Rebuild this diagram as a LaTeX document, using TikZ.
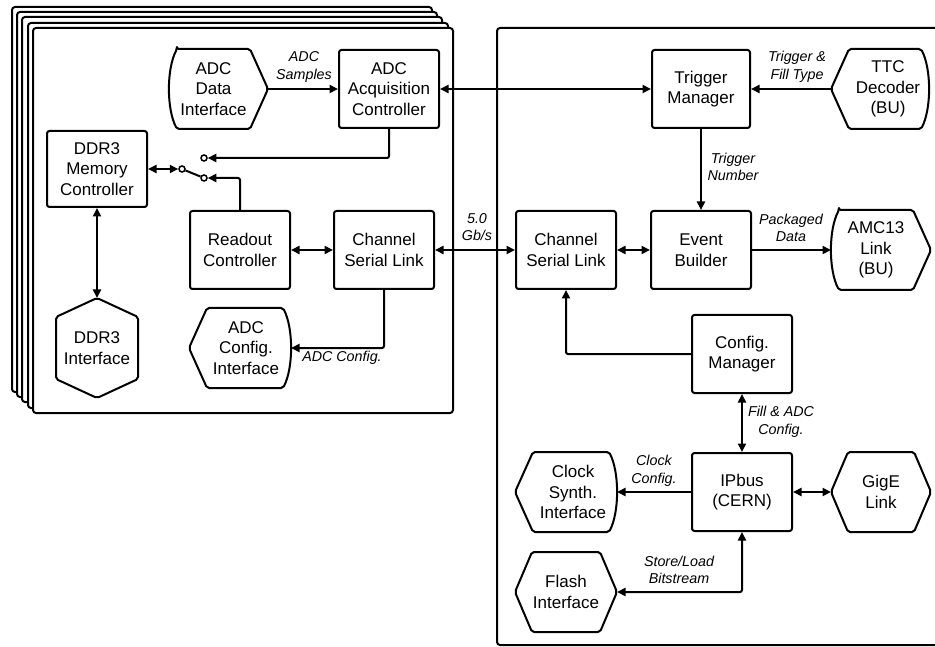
\documentclass[tikz,border=0pt]{standalone}
\usepackage{fontspec}
\setmainfont{Liberation Sans}
\usetikzlibrary{arrows.meta}
\newcommand\shpCurvL[1]{\draw[shp] ([xshift=8pt]#1.north west) -- ([xshift=-18pt]#1.north east) -- (#1.east) -- ([xshift=-18pt]#1.south east) -- ([xshift=8pt]#1.south west) .. controls ([xshift=-2.5pt,yshift=20pt]#1.south west) and ([xshift=-2.5pt,yshift=-20pt]#1.north west) .. cycle;}
\newcommand\shpCurvR[1]{\draw[shp] ([xshift=18pt]#1.north west) -- ([xshift=-8pt]#1.north east) .. controls ([xshift=2.5pt,yshift=-20pt]#1.north east) and ([xshift=2.5pt,yshift=20pt]#1.south east) .. ([xshift=-8pt]#1.south east) -- ([xshift=18pt]#1.south west) -- (#1.west) -- cycle;}
\newcommand\shpHexH[1]{\draw[shp] ([xshift=17pt]#1.north west) -- ([xshift=-17pt]#1.north east) -- (#1.east) -- ([xshift=-17pt]#1.south east) -- ([xshift=17pt]#1.south west) -- (#1.west) -- cycle;}
\newcommand\shpHexV[1]{\draw[shp] ([yshift=-19pt]#1.north west) -- (#1.north) -- ([yshift=-19pt]#1.north east) -- ([yshift=19pt]#1.south east) -- (#1.south) -- ([yshift=19pt]#1.south west) -- cycle;}
\begin{document}
\begin{tikzpicture}[x=1pt,y=-1pt,line width=2pt,
  tip/.tip={Triangle[length=8.5pt,width=8pt]},
  blk/.style={rectangle,draw,line width=2pt,rounded corners=2.5pt,minimum width=100pt,minimum height=78pt,align=center,inner sep=0pt,font=\fontsize{17}{20.5}\selectfont},
  ifc/.style={rectangle,minimum width=100pt,minimum height=78pt,align=center,inner sep=0pt,font=\fontsize{17}{20.5}\selectfont},
  txt/.style={align=center,inner sep=0pt,font=\fontsize{17}{20.5}\selectfont},
  shp/.style={line width=2pt,rounded corners=2pt,line join=round},
  lbl/.style={align=center,inner sep=0pt,font=\fontsize{14.3}{17.7}\selectfont\itshape},
  conn/.style={line width=2pt,rounded corners=2pt},
  arr/.style={conn,-tip},
  darr/.style={conn,tip-tip},
  term/.style={circle,draw,fill=white,line width=1.5pt,minimum size=6pt,inner sep=0pt},
  frame/.style={draw,fill=white,rounded corners=3pt,line width=2pt}]
\path[use as bounding box] (0,0) rectangle (935,647);
\clip (0,0) rectangle (935,647);
% stacked channel boards
\foreach \d in {21,16,11,5,0}{
  \path[frame] (33-\d,28-\d) rectangle (453-\d,413-\d);
}
% right board
\path[frame] (497,28) rectangle (960,645);

% left board nodes
\node[ifc,minimum width=97pt] (adi) at (218.5,89) {};
\shpCurvL{adi}
\node[txt] (adit) at (213.5,89) {ADC\\Data\\Interface};
\node[blk] (acq) at (389,89) {ADC\\Acquisition\\Controller};
\node[blk,minimum height=76pt] (ddrmc) at (97,169) {DDR3\\Memory\\Controller};
\node[ifc,minimum width=80pt,minimum height=98pt] (ddri) at (97,348) {DDR3\\Interface};
\shpHexV{ddri}
\node[blk] (ro) at (240,250) {Readout\\Controller};
\node[blk] (csl1) at (384,250) {Channel\\Serial Link};
\node[ifc] (adcc) at (240,348) {};
\shpCurvR{adcc}
\node[txt] (adcct) at (246,348) {ADC\\Config.\\Interface};

% switch
\node[term] (t0) at (182,169) {};
\node[term] (t1) at (204,158) {};
\node[term] (t2) at (204,178) {};

% right board nodes
\node[blk,minimum width=98pt] (tm) at (701,89) {Trigger\\Manager};
\node[ifc,minimum width=96pt] (ttc) at (880,89) {};
\shpCurvR{ttc}
\node[txt] (ttct) at (888,89) {TTC\\Decoder\\(BU)};
\node[blk] (csl2) at (566,250) {Channel\\Serial Link};
\node[blk] (eb) at (701,250) {Event\\Builder};
\node[ifc,minimum width=98pt] (amc) at (881,250) {};
\shpCurvL{amc}
\node[txt] (amct) at (876,250) {AMC13\\Link\\(BU)};
\node[blk] (cm) at (742,354) {Config.\\Manager};
\node[blk] (ip) at (742,492) {IPbus\\(CERN)};
\node[ifc] (clk) at (566,492) {};
\shpCurvR{clk}
\node[txt] (clkt) at (573,492) {Clock\\Synth.\\Interface};
\node[ifc,minimum width=98pt] (gige) at (881,492) {GigE\\Link};
\shpHexH{gige}
\node[ifc] (flash) at (566,592) {Flash\\Interface};
\shpHexH{flash}

% connectors left
\draw[arr] (adi.east) -- (acq.west);
\draw[arr] (acq.south) |- (t1);
\draw[arr] (ro.north) |- (t2);
\draw[darr] (ddrmc.east) -- (t0);
\draw[conn] (t0) -- (t2);
\draw[darr] (ddrmc.south) -- (ddri.north);
\draw[darr] (ro.east) -- (csl1.west);
\draw[arr] (csl1.south) |- (adcc.east);
% between boards
\draw[darr] (csl1.east) -- (csl2.west);
\draw[darr] (acq.east) -- (tm.west);
% connectors right
\draw[arr] (ttc.west) -- (tm.east);
\draw[arr] (tm.south) -- (eb.north);
\draw[darr] (csl2.east) -- (eb.west);
\draw[arr] (eb.east) -- (amc.west);
\draw[arr] (cm.west) -| (csl2.south);
\draw[darr] (cm.south) -- (ip.north);
\draw[arr] (ip.west) -- (clk.east);
\draw[darr] (ip.east) -- (gige.west);
\draw[darr] (ip.south) |- (flash.east);

% labels
\node[lbl] (l1) at (304,67) {ADC\\Samples};
\node[lbl] (l2) at (342,358) {ADC Config.};
\node[lbl] (l3) at (477,227) {5.0\\Gb/s};
\node[lbl] (l4) at (797,66.5) {Trigger \&\\Fill Type};
\node[lbl] (l5) at (733,167) {Trigger\\Number};
\node[lbl] (l6) at (791,228) {Packaged\\Data};
\node[lbl] (l7) at (781,422) {Fill \& ADC\\Config.};
\node[lbl] (l8) at (654,471) {Clock\\Config.};
\node[lbl] (l9) at (679,570) {Store/Load\\Bitstream};
\end{tikzpicture}
\end{document}
